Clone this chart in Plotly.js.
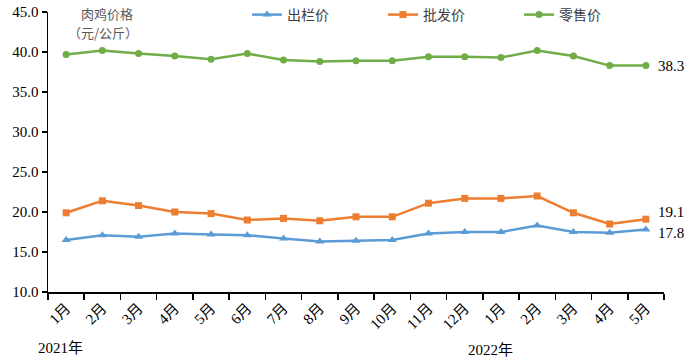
<!DOCTYPE html>
<html>
<head>
<meta charset="utf-8">
<script src="https://cdn.plot.ly/plotly-3.0.1.min.js"></script>
<style>html,body{margin:0;padding:0;background:#fff;}#chart{width:693px;height:364px;}</style>
</head>
<body>
<div id="chart"></div>
<script>
const months = ["1月","2月","3月","4月","5月","6月","7月","8月","9月","10月","11月","12月","1月","2月","3月","4月","5月"];
const years = ["2021年","2022年"];
const chulan = [16.5,17.1,16.9,17.3,17.2,17.1,16.7,16.3,16.4,16.5,17.3,17.5,17.5,18.3,17.5,17.4,17.8];
const pifa   = [19.9,21.4,20.8,20.0,19.8,19.0,19.2,18.9,19.4,19.4,21.1,21.7,21.7,22.0,19.9,18.5,19.1];
const lingshou = [39.7,40.2,39.8,39.5,39.1,39.8,39.0,38.8,38.9,38.9,39.4,39.4,39.3,40.2,39.5,38.3,38.3];
const names = ["出栏价","批发价","零售价"];
const yTitle = ["肉鸡价格","（元/公斤）"];

const idx = months.map((m,i)=>i);
const serif = "Liberation Serif, 'Times New Roman', 'Noto Sans CJK SC', serif";
const cjk = "'Noto Sans CJK SC', sans-serif";

const traces = [
  {x: idx, y: chulan, name: names[0], type:'scatter', mode:'lines+markers',
   line:{color:'#5B9BD5', width:2.5}, marker:{symbol:'triangle-up', size:8, color:'#5B9BD5'}},
  {x: idx, y: pifa, name: names[1], type:'scatter', mode:'lines+markers',
   line:{color:'#ED7D31', width:2.5}, marker:{symbol:'square', size:7, color:'#ED7D31'}},
  {x: idx, y: lingshou, name: names[2], type:'scatter', mode:'lines+markers',
   line:{color:'#70AD47', width:2.5}, marker:{symbol:'circle', size:7, color:'#70AD47'}}
];

const last = idx.length-1;
const endLabels = [lingshou, pifa, chulan].map((s,k)=>({
  x: last, y: s[last], xref:'x', yref:'y', text: s[last].toFixed(1), showarrow:false,
  xanchor:'left', xshift: 10, yshift: (k===1? 7 : (k===2 ? -3 : 0)),
  font:{family: serif, size:15, color:'#000'}
}));

const layout = {
  width:693, height:364,
  margin:{l:48, r:29, t:12, b:72, autoexpand:false},
  paper_bgcolor:'#fff', plot_bgcolor:'#fff',
  showlegend:true,
  legend:{orientation:'h', x:0.323, xanchor:'left', y:1-(15-12)/280, yanchor:'middle',
    entrywidth:91, entrywidthmode:'pixels', font:{family:cjk, size:14, color:'#404040'},
    bgcolor:'rgba(0,0,0,0)'},
  xaxis:{
    range:[-0.5, 16.5], tickmode:'array', tickvals: idx, ticktext: months,
    tickangle:-45, ticks:'', showgrid:false, zeroline:false,
    showline:true, linecolor:'#000', linewidth:1.5,
    tickfont:{family: serif, size:15, color:'#000'},
    minor:{tickmode:'linear', tick0:-0.5, dtick:1, ticks:'outside', ticklen:6, tickcolor:'#000', tickwidth:1.5, showgrid:false}
  },
  yaxis:{
    range:[10,45], dtick:5, tick0:10, tickformat:'.1f', ticks:'outside', ticklen:5,
    tickcolor:'#000', tickwidth:1.5, showline:true, linecolor:'#000', linewidth:1.5,
    showgrid:false, zeroline:false,
    tickfont:{family: serif, size:15, color:'#000'}
  },
  annotations: [
    {xref:'paper', yref:'paper', x:(107-48)/616, y:1-(14-12)/280, text:yTitle[0], showarrow:false,
     xanchor:'center', yanchor:'middle', font:{family:cjk, size:13, color:'#595959'}},
    {xref:'paper', yref:'paper', x:(103-48)/616, y:1-(33-12)/280, text:yTitle[1], showarrow:false,
     xanchor:'center', yanchor:'middle', font:{family:cjk, size:13, color:'#595959'}},
    {xref:'paper', yref:'paper', x:(60-48)/616, y:-(348-292)/280, text:years[0], showarrow:false,
     xanchor:'center', yanchor:'middle', font:{family: serif, size:15, color:'#000'}},
    {xref:'paper', yref:'paper', x:(490-48)/616, y:-(350-292)/280, text:years[1], showarrow:false,
     xanchor:'center', yanchor:'middle', font:{family: serif, size:15, color:'#000'}},
    ...endLabels
  ]
};

Plotly.newPlot('chart', traces, layout, {displayModeBar:false, staticPlot:true});
</script>
</body>
</html>
